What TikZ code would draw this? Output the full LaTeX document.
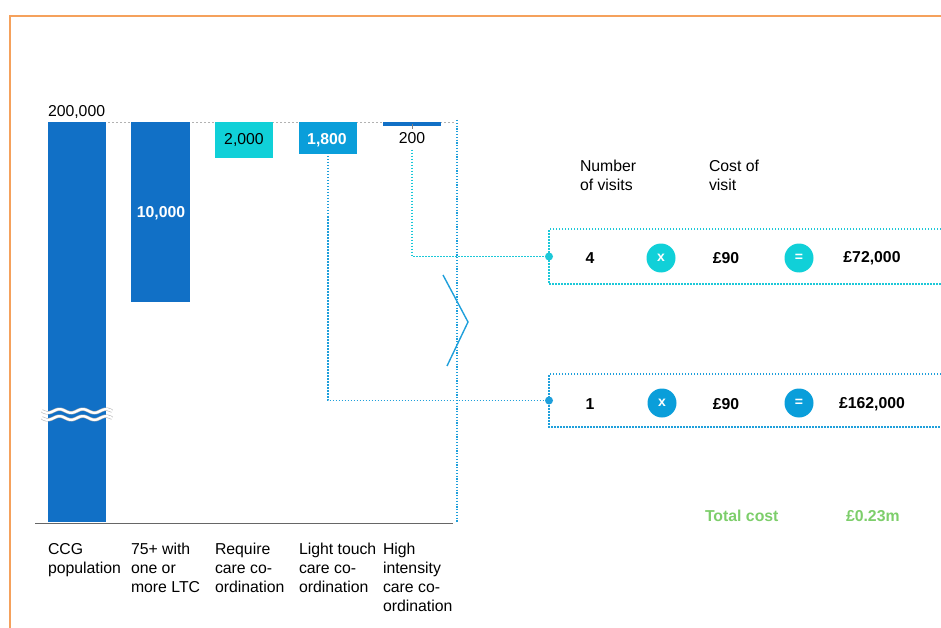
\documentclass[tikz,border=0pt]{standalone}
\usepackage{fontspec}
\setmainfont{Liberation Sans}
\definecolor{barblue}{HTML}{1170C6}
\definecolor{cyanbar}{HTML}{10D0D8}
\definecolor{bluetwo}{HTML}{0A9EDA}
\definecolor{dotcyan}{HTML}{1CC8D8}
\definecolor{dotblue}{HTML}{1E9FDB}
\definecolor{totgreen}{HTML}{7DCE6B}
\definecolor{frameorange}{HTML}{F5A15C}
\begin{document}
\begin{tikzpicture}[x=1pt,y=-1pt,
  every node/.style={font=\fontsize{15.8}{19}\selectfont, inner sep=0pt, outer sep=0pt},
  bar/.style={draw=none, minimum width=58pt},
  val/.style={font=\fontsize{15.8}{19}\selectfont\bfseries, text=white},
  cat/.style={anchor=north west, align=left},
  rowtxt/.style={font=\fontsize{15.8}{19}\selectfont\bfseries},
  opc/.style={circle, minimum size=29pt, text=white, font=\fontsize{14}{16}\selectfont\bfseries},
  dotline/.style={line width=1.7pt, dash pattern=on 1.5pt off 1.5pt},
  endpt/.style={circle, minimum size=8pt},
  legbox/.style={minimum width=392pt, draw=none}
]
\useasboundingbox (0,0) rectangle (941,628);
% orange frame
\draw[frameorange, line width=2pt] (10,628) -- (10,16) -- (941,16);

% top dashed reference line
\draw[black!30, line width=0.6pt, dash pattern=on 2pt off 2pt] (48,122) -- (455,122);

% bars
\node[bar, fill=barblue, minimum height=400pt] (b1) at (77,322) {};
\node[bar, fill=barblue, minimum width=59pt, minimum height=180pt] (b2) at (160.5,212) {};
\node[bar, fill=cyanbar, minimum height=36pt] (b3) at (244,140) {};
\node[bar, fill=bluetwo, minimum height=32pt] (b4) at (328,138) {};
\node[bar, fill=barblue, minimum height=4pt] (b5) at (412,124) {};

% break mark on first bar
\foreach \yy in {411,418}{
  \draw[black!30, line width=3.4pt] plot[domain=42:112, samples=80] (\x, {\yy + 1.8*sin((\x-42)/23.3*360)});
  \draw[white, line width=2.3pt] plot[domain=42:112, samples=80] (\x, {\yy + 1.8*sin((\x-42)/23.3*360)});
}

% values
\node[anchor=north west] (v1) at (48,105) {200,000};
\node[val] (v2) at (161,213) {10,000};
\node (v3) at (244,140) {2,000};
\node[val] (v4) at (327,140) {1,800};
\node (v5) at (412,138) {200};
\draw[black!50, line width=0.8pt] (b5.center) -- ++(0,5);

% axis
\draw[black!60, line width=1pt] (35,523) -- (453,523);

% vertical dotted divider
\draw[dotblue, line width=1.3pt, dash pattern=on 1.2pt off 1.6pt] (457,120) -- (457,522);

% chevron
\draw[dotblue, line width=1.4pt] (443,275) -- (468,322) -- (447,366);

% category labels
\node[cat] (c1) at (48,543) {CCG\\population};
\node[cat] (c2) at (131,543) {75+ with\\one or\\more LTC};
\node[cat] (c3) at (215,543) {Require\\care co-\\ordination};
\node[cat] (c4) at (299,543) {Light touch\\care co-\\ordination};
\node[cat] (c5) at (383,543) {High\\intensity\\care co-\\ordination};

% headers
\node[cat] (h1) at (580,160) {Number\\of visits};
\node[cat] (h2) at (709,160) {Cost of\\visit};

% legend boxes
\node[legbox, minimum height=55pt] (bx1) at (745,256.5) {};
\node[legbox, minimum height=53pt] (bx2) at (745,400.5) {};
\draw[dotcyan, dotline] (bx1.north east) -- (bx1.north west) -- (bx1.south west) -- (bx1.south east);
\draw[dotblue, dotline] (bx2.north east) -- (bx2.north west) -- (bx2.south west) -- (bx2.south east);
\node[endpt, fill=dotcyan] (d1) at (bx1.west) {};
\node[endpt, fill=dotblue] (d2) at (bx2.west) {};

% connectors
\draw[dotcyan, dotline, shorten <=6pt] (v5.south) |- (d1);
\draw[dotblue, dotline, shorten <=2pt] (b4.south) |- (d2);

% row 1
\node[rowtxt] (r1n) at (590,258) {4};
\node[opc, fill=cyanbar] (r1x) at (661,258) {x};
\node[rowtxt] (r1c) at (726,258) {£90};
\node[opc, fill=cyanbar] (r1e) at (799,258) {=};
\node[rowtxt] (r1t) at (872,258) {£72,000};

% row 2
\node[rowtxt] (r2n) at (590,404) {1};
\node[opc, fill=bluetwo] (r2x) at (662,403) {x};
\node[rowtxt] (r2c) at (726,404) {£90};
\node[opc, fill=bluetwo] (r2e) at (799,403) {=};
\node[rowtxt] (r2t) at (872,404) {£162,000};

% total
\node[anchor=west, font=\fontsize{15.8}{19}\selectfont\bfseries, text=totgreen] (tl) at (705,516) {Total cost};
\node[anchor=west, font=\fontsize{15.8}{19}\selectfont\bfseries, text=totgreen] (tv) at (846,516) {£0.23m};
\end{tikzpicture}
\end{document}
